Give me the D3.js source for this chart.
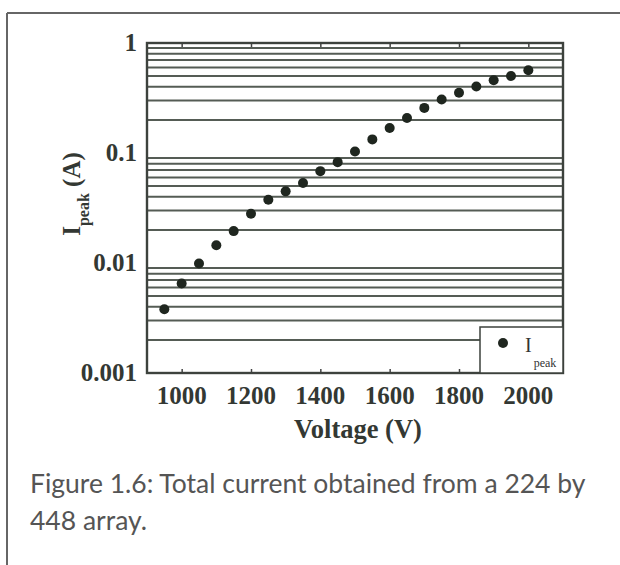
<!DOCTYPE html>
<html>
<head>
<meta charset="utf-8">
<script src="https://cdn.jsdelivr.net/npm/d3@7"></script>
<style>
  html, body { margin: 0; padding: 0; background: #fff; }
  svg { display: block; }
</style>
</head>
<body>
<svg id="chart" width="620" height="565"></svg>
<script>
// Peak current versus applied voltage
const voltages = [950, 1000, 1050, 1100, 1150, 1200, 1250, 1300, 1350, 1400, 1450,
                  1500, 1550, 1600, 1650, 1700, 1750, 1800, 1850, 1900, 1950, 2000];
const ipeak = [0.0038, 0.0065, 0.0099, 0.0145, 0.0195, 0.028, 0.0376, 0.0448, 0.0534,
               0.0684, 0.0826, 0.103, 0.133, 0.169, 0.208, 0.257, 0.306, 0.353,
               0.403, 0.458, 0.501, 0.565];
const xTicks = [1000, 1200, 1400, 1600, 1800, 2000];
const yTicks = [0.001, 0.01, 0.1, 1];
const yTickLabels = ["0.001", "0.01", "0.1", "1"];
const captionLines = ["Figure 1.6: Total current obtained from a 224 by", "448 array."];

const svg = d3.select("#chart");
const plotL = 147, plotR = 563, plotT = 43, plotB = 373;

const x = d3.scaleLinear().domain([900, 2100]).range([plotL, plotR]);
const y = d3.scaleLog().domain([0.001, 1]).range([plotB, plotT]);

const serif = "'Liberation Serif', 'DejaVu Serif', serif";
const ink = "#333833";

// page frame
svg.append("line").attr("x1", 7).attr("x2", 620).attr("y1", 13).attr("y2", 13)
  .attr("stroke", "#666").attr("stroke-width", 2);
svg.append("line").attr("x1", 7).attr("x2", 7).attr("y1", 13).attr("y2", 565)
  .attr("stroke", "#666").attr("stroke-width", 2);

// minor horizontal grid lines (2..9 in each decade)
const minor = [];
[0.001, 0.01, 0.1].forEach(d => { for (let k = 2; k <= 9; k++) minor.push(d * k); });
svg.append("g").selectAll("line").data(minor).join("line")
  .attr("x1", plotL).attr("x2", plotR)
  .attr("y1", d => y(d)).attr("y2", d => y(d))
  .attr("stroke", "#555c55").attr("stroke-width", 2);

// x ticks inside the frame (top and bottom)
const xAxisB = d3.axisBottom(x).tickValues(xTicks).tickSize(-4).tickFormat("");
const xAxisT = d3.axisTop(x).tickValues(xTicks).tickSize(-4).tickFormat("");
svg.append("g").attr("transform", `translate(0,${plotB})`).call(xAxisB)
  .call(g => g.select(".domain").remove())
  .selectAll("line").attr("stroke", "#444").attr("stroke-width", 1.5);
svg.append("g").attr("transform", `translate(0,${plotT})`).call(xAxisT)
  .call(g => g.select(".domain").remove())
  .selectAll("line").attr("stroke", "#444").attr("stroke-width", 1.5);

// plot frame
svg.append("rect").attr("x", plotL).attr("y", plotT)
  .attr("width", plotR - plotL).attr("height", plotB - plotT)
  .attr("fill", "none").attr("stroke", "#3d423d").attr("stroke-width", 2.4);

// x tick labels
svg.append("g").selectAll("text").data(xTicks).join("text")
  .attr("x", d => x(d)).attr("y", 404)
  .attr("text-anchor", "middle")
  .attr("font-family", serif).attr("font-weight", "bold").attr("font-size", 25)
  .attr("fill", ink)
  .text(d => d);

// y tick labels
svg.append("g").selectAll("text").data(yTicks).join("text")
  .attr("x", 137).attr("y", d => y(d) + 8)
  .attr("text-anchor", "end")
  .attr("font-family", serif).attr("font-weight", "bold").attr("font-size", 25)
  .attr("fill", ink)
  .text((d, i) => yTickLabels[i]);

// axis titles
svg.append("text").attr("x", 358).attr("y", 438)
  .attr("text-anchor", "middle")
  .attr("font-family", serif).attr("font-weight", "bold").attr("font-size", 26.5)
  .attr("fill", ink)
  .text("Voltage (V)");

const yTitle = svg.append("text")
  .attr("transform", "translate(80,194) rotate(-90)")
  .attr("text-anchor", "middle")
  .attr("font-family", serif).attr("font-weight", "bold").attr("font-size", 25)
  .attr("fill", ink);
yTitle.append("tspan").text("I");
yTitle.append("tspan").attr("font-size", 16).attr("dy", 9).text("peak");
yTitle.append("tspan").attr("dy", -9).text(" (A)");

// data points
svg.append("g").selectAll("circle").data(voltages).join("circle")
  .attr("cx", d => x(d)).attr("cy", (d, i) => y(ipeak[i]))
  .attr("r", 5).attr("fill", "#1f261f");

// legend
const lg = svg.append("g");
lg.append("rect").attr("x", 480).attr("y", 327).attr("width", plotR - 480).attr("height", plotB - 327)
  .attr("fill", "#fff").attr("stroke", "#3d423d").attr("stroke-width", 1.5);
lg.append("circle").attr("cx", 503).attr("cy", 343).attr("r", 5).attr("fill", "#1f261f");
const lt = lg.append("text").attr("x", 525).attr("y", 352)
  .attr("font-family", serif).attr("font-size", 20).attr("fill", "#333");
lt.append("tspan").text("I");
lt.append("tspan").attr("font-size", 12).attr("dx", 2).attr("dy", 15).text("peak");

// caption
svg.append("g").selectAll("text").data(captionLines).join("text")
  .attr("x", 30).attr("y", (d, i) => 493 + i * 37)
  .attr("font-family", "Lato, 'Open Sans', sans-serif").attr("font-size", 26.5)
  .attr("fill", "#555")
  .text(d => d);
</script>
</body>
</html>
